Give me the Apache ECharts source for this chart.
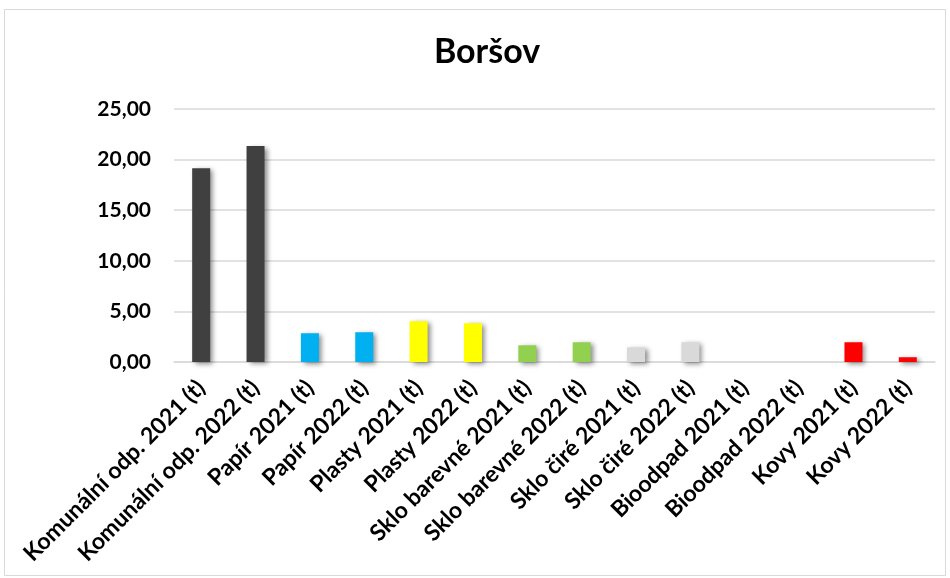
<!DOCTYPE html>
<html><head><meta charset="utf-8">
<script src="https://cdn.jsdelivr.net/npm/echarts@6/dist/echarts.min.js"></script>
<style>html,body{margin:0;padding:0;background:#fff}#c{width:950px;height:578px}</style>
</head><body><div id="c"></div>
<script>
const categories = ["Komunální odp. 2021 (t)","Komunální odp. 2022 (t)","Papír 2021 (t)","Papír 2022 (t)","Plasty 2021 (t)","Plasty 2022 (t)","Sklo barevné 2021 (t)","Sklo barevné 2022 (t)","Sklo čiré 2021 (t)","Sklo čiré 2022 (t)","Bioodpad 2021 (t)","Bioodpad 2022 (t)","Kovy 2021 (t)","Kovy 2022 (t)"];
const values = [19.15, 21.35, 2.84, 2.94, 4.03, 3.83, 1.65, 1.95, 1.45, 1.95, 0, 0, 1.95, 0.47];
const colors = ["#404040","#404040","#00b0f0","#00b0f0","#ffff00","#ffff00","#92d050","#92d050","#d9d9d9","#d9d9d9","#70ad47","#70ad47","#ff0000","#ff0000"];
const title = "Boršov";

const chart = echarts.init(document.getElementById('c'));
chart.setOption({
  animation: false,
  backgroundColor: '#fff',
  title: { text: title, left: 482, textAlign: 'center', top: 30,
    textStyle: { fontFamily: 'Lato', fontWeight: 'bold', fontSize: 34, color: '#000' } },
  graphic: [{ type: 'rect', shape: { x: 4.5, y: 9.5, width: 941, height: 566 },
    style: { fill: 'none', stroke: '#d9d9d9', lineWidth: 1 }, silent: true }],
  grid: { left: 174, right: 15, top: 109, bottom: 216 },
  xAxis: {
    type: 'category', data: categories,
    axisLine: { lineStyle: { color: '#d9d9d9', width: 1.5 } },
    axisTick: { show: false },
    axisLabel: { interval: 0, rotate: 45, margin: 22, color: '#000', fontFamily: 'Lato',
      fontWeight: 'bold', fontSize: 23 }
  },
  yAxis: {
    type: 'value', min: 0, max: 25, interval: 5,
    axisLine: { show: false }, axisTick: { show: false },
    splitLine: { lineStyle: { color: '#d9d9d9', width: 1.5 } },
    axisLabel: { color: '#000', fontFamily: 'Lato', fontWeight: 'bold', fontSize: 21, margin: 23,
      formatter: v => v.toFixed(2).replace('.', ',') }
  },
  series: [{
    type: 'bar', barWidth: 18,
    data: values.map((v, i) => ({ value: v, itemStyle: { color: colors[i] } })),
    itemStyle: { shadowBlur: 5, shadowOffsetX: 3, shadowOffsetY: 2, shadowColor: 'rgba(0,0,0,0.45)' }
  }]
});
</script></body></html>
